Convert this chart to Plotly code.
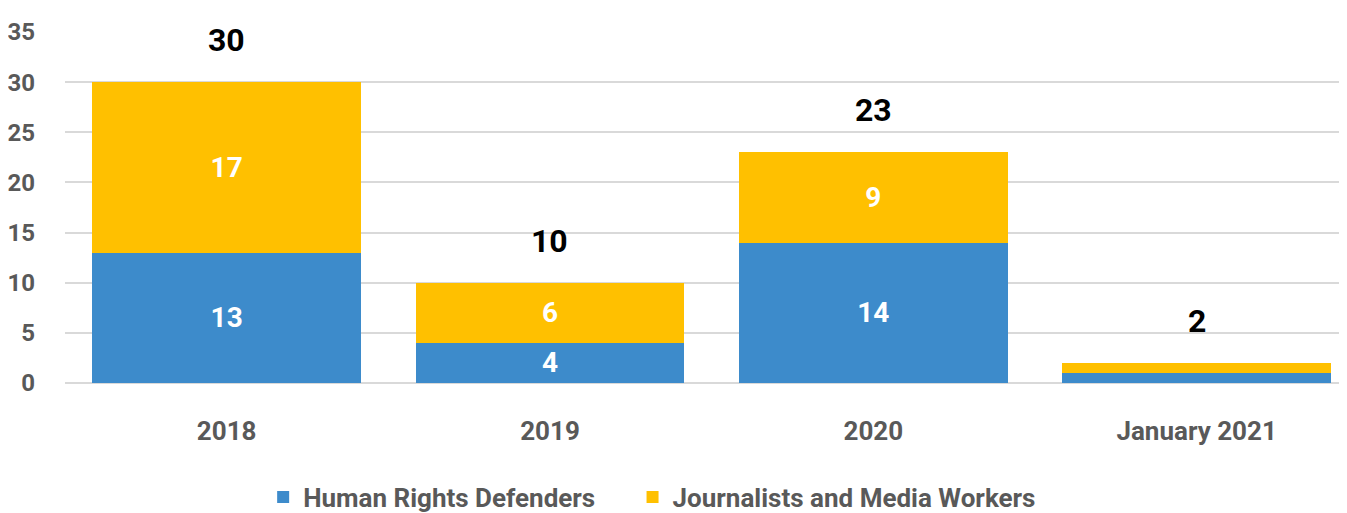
import plotly.graph_objects as go

categories = ["2018", "2019", "2020", "January 2021"]
hrd = [13, 4, 14, 1]
journalists = [17, 6, 9, 1]
totals = [a + b for a, b in zip(hrd, journalists)]
y_ticks = [0, 5, 10, 15, 20, 25, 30, 35]
series_names = ["Human Rights Defenders", "Journalists and Media Workers"]

FONT = "Roboto, Liberation Sans, sans-serif"
BLUE = "#3D8BCB"
YELLOW = "#FFC000"
GREY = "#595959"
PAD = "\u00a0" * 5

fig = go.Figure()
for name, vals, color in [(series_names[0] + PAD, hrd, BLUE),
                          (series_names[1], journalists, YELLOW)]:
    fig.add_trace(go.Bar(
        x=categories, y=vals, name=name,
        marker=dict(color=color, line=dict(width=0)),
        text=[str(v) if v > 1 else "" for v in vals], textposition="inside",
        insidetextanchor="middle", textangle=0, constraintext="none",
        textfont=dict(family=FONT, size=28, color="white", weight="bold"),
    ))

for i, t in enumerate(totals):
    fig.add_annotation(x=i, y=t, xref="x", yref="y", text=str(t), showarrow=False,
                       yanchor="middle", yshift=42,
                       font=dict(family=FONT, size=32, color="black", weight="bold"))

fig.update_layout(
    width=1339, height=505,
    barmode="stack", bargap=0.17,
    plot_bgcolor="white", paper_bgcolor="white",
    margin=dict(l=57, r=0, t=24, b=130, autoexpand=False),
    font=dict(family=FONT, color=GREY, weight="bold"),
    uniformtext=dict(mode=False),
    legend=dict(orientation="h", x=0.458, xanchor="center", y=-0.325, yanchor="middle",
                font=dict(family=FONT, size=26, color=GREY, weight="bold"),
                itemwidth=30, traceorder="normal"),
    xaxis=dict(type="category", range=[-0.5, 3.465], showgrid=False, showline=False,
               ticks="", automargin=False,
               tickfont=dict(family=FONT, size=26, color=GREY, weight="bold"),
               ticklabelstandoff=30),
    yaxis=dict(range=[0, 35], tickvals=y_ticks, showgrid=True, gridcolor="#D9D9D9",
               gridwidth=2, zeroline=True, zerolinecolor="#D9D9D9", zerolinewidth=2,
               showline=False, ticks="", automargin=False,
               tickfont=dict(family=FONT, size=24, color=GREY, weight="bold"),
               ticklabelstandoff=29),
)

fig.write_html("out.html")
